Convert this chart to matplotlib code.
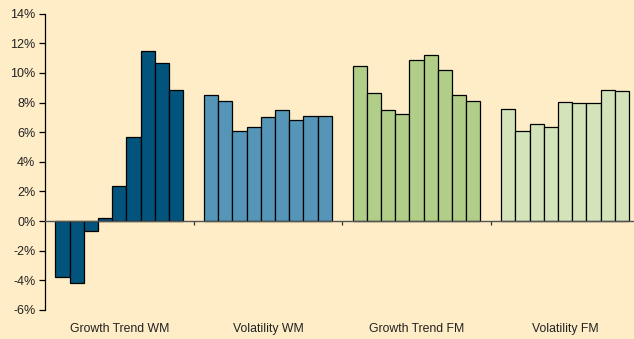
import numpy as np
import matplotlib
matplotlib.use("Agg")
import matplotlib.pyplot as plt
from matplotlib.ticker import FuncFormatter
import matplotlib.transforms as mtransforms

categories = ["Growth Trend WM", "Volatility WM", "Growth Trend FM", "Volatility FM"]
growth_wm = [-3.8, -4.2, -0.7, 0.2, 2.4, 5.7, 11.5, 10.7, 8.85]
volatility_wm = [8.5, 8.1, 6.05, 6.35, 7.0, 7.5, 6.8, 7.1, 7.1]
growth_fm = [10.5, 8.65, 7.5, 7.25, 10.9, 11.2, 10.2, 8.5, 8.1]
volatility_fm = [7.6, 6.05, 6.55, 6.35, 8.05, 8.0, 7.95, 8.85, 8.8]

series = [growth_wm, volatility_wm, growth_fm, volatility_fm]
colors = ["#02547c", "#5495b8", "#b1ce88", "#d4e4ba"]
bg = "#feedc6"

plt.rcParams["font.family"] = ["Liberation Sans", "DejaVu Sans"]

fig = plt.figure(figsize=(6.34, 3.39), dpi=100, facecolor=bg)
ax = fig.add_axes([45 / 634, 29 / 339, 594.4 / 634, 296.3 / 339])
ax.set_facecolor(bg)

bw = 0.86 / 9
for c, vals in enumerate(series):
    xs = c + (np.arange(len(vals)) - 4) * bw
    ax.bar(xs, vals, width=bw, color=colors[c], edgecolor="black",
           linewidth=0.9, zorder=3)

ax.set_xlim(-0.5, 3.5)
ax.set_ylim(-6, 14)
ax.set_yticks(np.arange(-6, 15, 2))
ax.yaxis.set_major_formatter(FuncFormatter(lambda v, p: f"{v:.0f}%"))
ax.tick_params(axis="y", direction="out", length=4, width=0.9,
               labelsize=9, colors="black", labelcolor="#222222", pad=3)

ax.spines["top"].set_visible(False)
ax.spines["right"].set_visible(False)
ax.spines["left"].set_linewidth(0.9)
ax.spines["bottom"].set_position(("data", 0))
ax.spines["bottom"].set_color("#555555")
ax.spines["bottom"].set_linewidth(1.0)
ax.spines["bottom"].set_zorder(4)

ax.set_xticks([0.5, 1.5, 2.5])
ax.set_xticklabels([])
ax.tick_params(axis="x", direction="out", length=3, width=0.9, colors="#333333")

# category names under the plot, same baseline
trans = mtransforms.blended_transform_factory(ax.transData, fig.transFigure)
for c, name in enumerate(categories):
    ax.text(c, 1 - 332 / 339, name, transform=trans, ha="center",
            va="baseline", fontsize=8.8, color="#222222")

fig.savefig("out.png", dpi=100, facecolor=bg)
